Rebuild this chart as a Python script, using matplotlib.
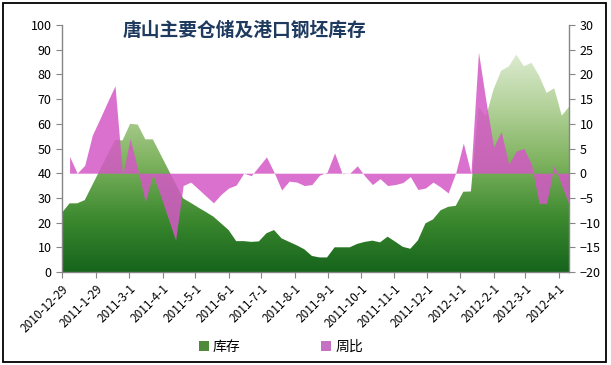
import numpy as np
import pandas as pd
import matplotlib
matplotlib.use("Agg")
import matplotlib.pyplot as plt
import matplotlib.dates as mdates
from matplotlib.colors import LinearSegmentedColormap
from matplotlib.patches import Patch, Rectangle

plt.rcParams['font.family'] = ['Noto Sans CJK SC', 'DejaVu Sans']

# weekly data, 2010-12-29 .. 2012-4-11
dates = pd.date_range("2010-12-29", periods=68, freq="7D")

stock = [24.0, 27.8, 27.8, 29.1, 35.2, 41.3, 47.4, 53.4, 53.3, 60.0,
         59.7, 53.7, 53.7, 47.7, 41.7, 35.8, 29.8, 28.0, 26.1, 24.3,
         22.4, 19.7, 17.0, 12.5, 12.5, 12.2, 12.4, 15.7, 17.0, 13.6,
         12.2, 10.8, 9.2, 6.5, 5.9, 5.9, 10.0, 10.0, 10.0, 11.4,
         12.2, 12.7, 12.0, 14.3, 12.3, 10.2, 9.4, 12.8, 19.7, 21.3,
         25.0, 26.4, 26.8, 32.5, 32.6, 67.0, 63.0, 74.0, 81.5, 83.2,
         88.0, 83.3, 84.7, 79.5, 72.5, 74.4, 63.3, 67.0]

weekly = [np.nan, 3.4, 0.0, 1.6, 7.7, 11.0, 14.4, 17.7, -0.4, 7.0,
          0.8, -5.8, -0.2, -4.5, -9.0, -13.6, -2.5, -1.8, -3.2, -4.6,
          -6.0, -4.3, -3.0, -2.4, 0.0, -0.5, 1.4, 3.3, 0.2, -3.4,
          -1.6, -1.8, -2.5, -2.3, -0.4, 0.2, 4.1, -0.1, 0.0, 1.5,
          -0.6, -2.3, -1.1, -2.5, -2.3, -1.9, -0.7, -3.3, -3.0, -1.8,
          -2.8, -4.0, 0.1, 6.1, 0.0, 24.5, 14.5, 5.3, 8.4, 1.8,
          4.5, 5.0, 1.8, -6.1, -6.1, 1.6, -2.5, -6.5]

tick_dates = ["2010-12-29", "2011-1-29", "2011-3-1", "2011-4-1", "2011-5-1",
              "2011-6-1", "2011-7-1", "2011-8-1", "2011-9-1", "2011-10-1",
              "2011-11-1", "2011-12-1", "2012-1-1", "2012-2-1", "2012-3-1",
              "2012-4-1"]

title = "唐山主要仓储及港口钢坯库存"

x = mdates.date2num(dates)
stock = np.array(stock)
weekly = np.array(weekly)

fig = plt.figure(figsize=(6.11, 3.65), dpi=100)
ax = fig.add_axes([0.1015, 0.2548, 0.8303, 0.6767])
ax2 = ax.twinx()

# green gradient area clipped to the stock polygon
greens = LinearSegmentedColormap.from_list(
    "g", [(0, "#15641b"), (0.25, "#3d8a30"), (0.5, "#7db25e"),
          (0.75, "#b2d198"), (1, "#dcebd0")])
grad = np.linspace(0, 1, 256).reshape(-1, 1)
poly = ax.fill_between(x, 0, stock, color="none", lw=0)
img = ax.imshow(grad, cmap=greens, origin="lower", aspect="auto",
                extent=[x[0], x[-1], 0, stock.max()], zorder=1)
img.set_clip_path(poly.get_paths()[0], transform=ax.transData)

ax2.fill_between(x, 0, weekly, color="#d558c6", alpha=0.85, lw=0)

ax.set_xlim(x[0], x[-1])
ax.set_ylim(0, 100)
ax.set_yticks(range(0, 101, 10))
ax2.set_ylim(-20, 30)
ax2.set_yticks(range(-20, 31, 5))

ticks = mdates.date2num(pd.to_datetime(tick_dates))
ax.set_xticks(ticks)
ax.set_xticklabels(tick_dates, rotation=45, ha="right", rotation_mode="anchor",
                   fontsize=8.5)

for a in (ax, ax2):
    for s in a.spines.values():
        s.set_visible(False)
ax.spines["left"].set_visible(True)
ax.spines["bottom"].set_visible(True)
ax2.spines["right"].set_visible(True)
for s in (ax.spines["left"], ax.spines["bottom"], ax2.spines["right"]):
    s.set_color("#868686")
    s.set_linewidth(1.0)

ax.tick_params(axis="both", colors="#868686", labelcolor="black",
               labelsize=9, length=4)
ax.tick_params(axis="x", labelsize=8.5)
ax2.tick_params(axis="y", colors="#868686", labelcolor="black",
                labelsize=9, length=4)

fig.text(0.40, 0.917, title, fontsize=13.5, fontweight="bold",
         color="#1f3a5f", ha="center", va="center")

handles = [Patch(facecolor="#4e8a3a", edgecolor="none", label="库存"),
           Patch(facecolor="#c672c4", edgecolor="none", label="周比")]
fig.legend(handles=handles, loc="center", bbox_to_anchor=(0.46, 0.049),
           ncol=2, frameon=False, fontsize=10, handlelength=0.7,
           handleheight=0.7, handletextpad=0.3, columnspacing=5.8)

fig.patches.append(Rectangle((3 / 611, 1 - 361.7 / 365), 602.7 / 611,
                             358.7 / 365, transform=fig.transFigure,
                             fill=False, edgecolor="black", linewidth=1.3))

fig.savefig("out.png", dpi=100)
